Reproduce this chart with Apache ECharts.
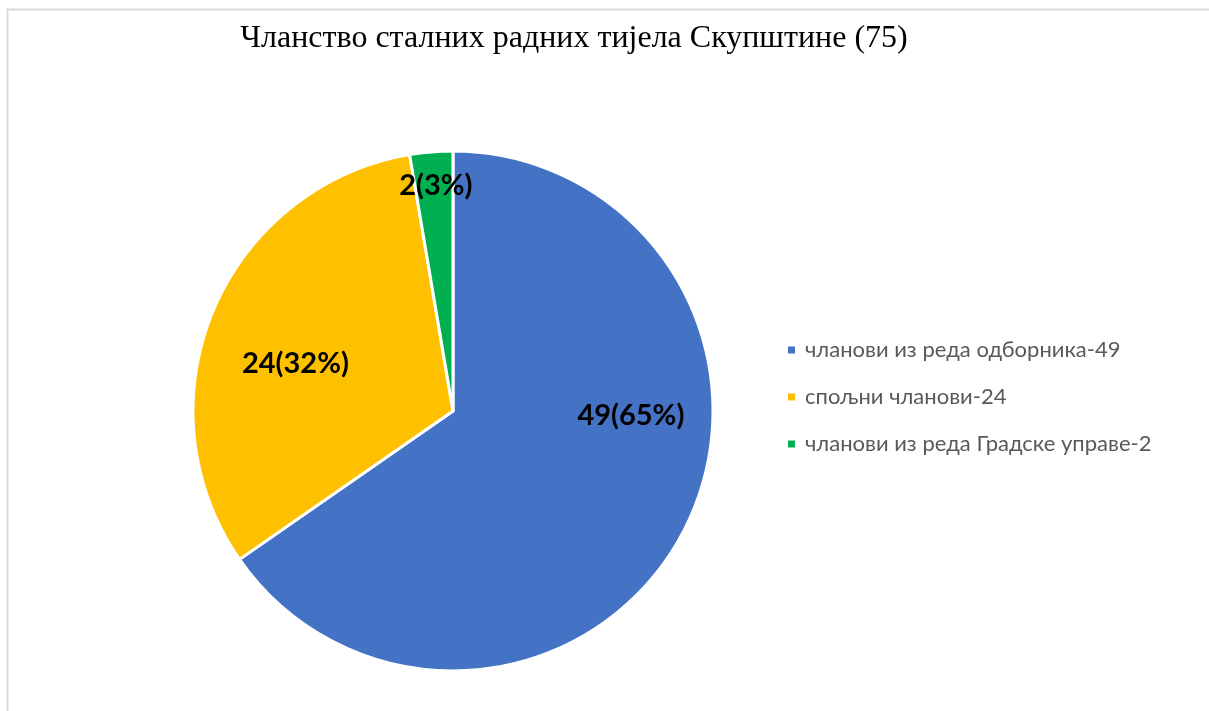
<!DOCTYPE html>
<html>
<head>
<meta charset="utf-8">
<script src="https://cdn.jsdelivr.net/npm/echarts@6/dist/echarts.min.js"></script>
<style>
  html, body { margin: 0; padding: 0; background: #fff; }
  #main { width: 1209px; height: 711px; }
</style>
</head>
<body>
<div id="main"></div>
<script>
  // подаци
  const categories = ['чланови из реда одборника-49', 'спољни чланови-24', 'чланови из реда Градске управе-2']
  const values = [49, 24, 2]
  const colors = ['#4472C4', '#FFC000', '#00B050']
  // померај натписа (Excel их ставља другачије од ECharts)
  const labelOffsets = [[60, -57], [-35, 4], [-6, -93]]

  const total = values.reduce((a, b) => a + b, 0)

  const chart = echarts.init(document.getElementById('main'))
  chart.setOption({
    animation: false,
    graphic: [
      {
        type: 'rect',
        shape: { x: 7.5, y: 9.5, width: 1300, height: 800 },
        style: { fill: 'none', stroke: '#d9d9d9', lineWidth: 2 },
        silent: true
      }
    ],
    title: {
      text: 'Чланство сталних радних тијела Скупштине (75)',
      left: 569,
      top: 18,
      textAlign: 'center',
      textStyle: {
        fontFamily: 'Liberation Serif',
        fontSize: 32,
        fontWeight: 'normal',
        color: '#000'
      }
    },
    legend: {
      orient: 'vertical',
      left: 786,
      top: 339,
      padding: 0,
      icon: 'rect',
      itemWidth: 9,
      itemHeight: 9,
      itemGap: 25,
      textStyle: {
        fontFamily: 'Lato',
        fontSize: 22,
        color: '#595959',
        lineHeight: 22,
        padding: [0, 0, 0, 4]
      },
      data: categories
    },
    series: [
      {
        type: 'pie',
        center: [453, 411],
        radius: 260,
        startAngle: 90,
        clockwise: true,
        avoidLabelOverlap: false,
        itemStyle: { borderColor: '#fff', borderWidth: 3 },
        label: {
          show: true,
          position: 'inside',
          fontFamily: 'Lato',
          fontWeight: 'bold',
          fontSize: 29,
          color: '#000',
          formatter: (p) => p.value + '(' + Math.round((p.value / total) * 100) + '%)'
        },
        labelLine: { show: false },
        data: categories.map((name, i) => ({
          name,
          value: values[i],
          itemStyle: { color: colors[i] },
          label: { offset: labelOffsets[i] }
        }))
      }
    ]
  })
</script>
</body>
</html>
